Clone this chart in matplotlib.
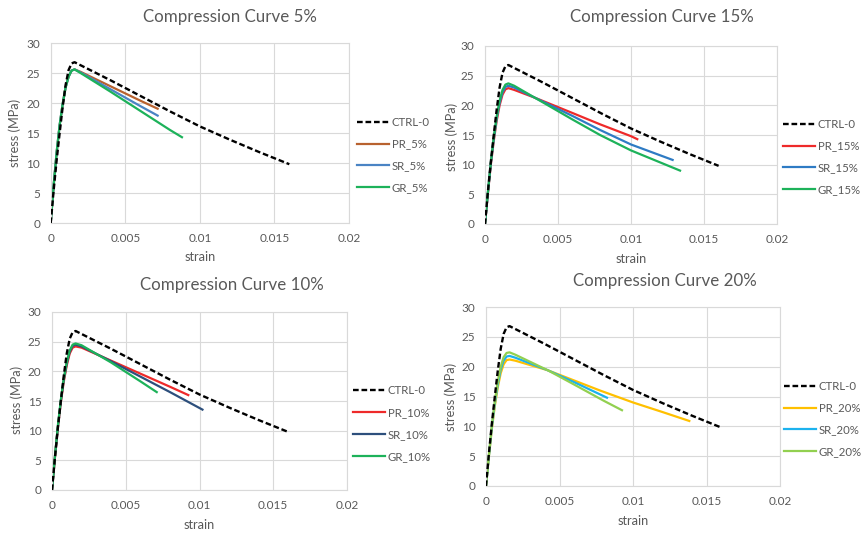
import matplotlib
matplotlib.use("Agg")
import matplotlib.pyplot as plt

plt.rcParams['font.family'] = ['Lato', 'DejaVu Sans']

# ---------------- data ----------------
rise_strain = [0, 0.0002, 0.0004, 0.0006, 0.0008, 0.001, 0.0012, 0.0014, 0.0016]

ctrl_strain = rise_strain + [0.002, 0.004, 0.006, 0.008, 0.010, 0.012, 0.014, 0.016]
ctrl_stress = [0, 5.5, 10.5, 15.0, 19.3, 23.0, 25.5, 26.6, 26.8,
               26.3, 23.8, 21.2, 18.6, 16.1, 13.9, 11.8, 9.8]

# 5%
pr5_strain = rise_strain + [0.002, 0.004, 0.006, 0.00717]
pr5_stress = [0, 6.3, 11.8, 16.3, 19.8, 22.6, 24.4, 25.4, 25.6, 25.2, 22.8, 20.4, 19.05]
sr5_strain = rise_strain + [0.002, 0.004, 0.006, 0.00717]
sr5_stress = [0, 6.3, 11.8, 16.3, 19.8, 22.6, 24.4, 25.4, 25.6, 25.1, 22.3, 19.5, 17.9]
gr5_strain = rise_strain + [0.002, 0.004, 0.006, 0.008, 0.0088]
gr5_stress = [0, 6.3, 11.8, 16.3, 19.8, 22.6, 24.4, 25.4, 25.6, 25.0, 21.9, 18.7, 15.5, 14.3]

# 15%
pr15_strain = rise_strain + [0.002, 0.0034, 0.006, 0.00788, 0.010, 0.01043]
pr15_stress = [0, 5.2, 10.0, 14.0, 17.4, 20.0, 21.8, 22.7, 22.9, 22.6, 21.3, 18.7, 16.8, 14.8, 14.3]
sr15_strain = rise_strain + [0.002, 0.0034, 0.006, 0.00788, 0.010, 0.01285]
sr15_stress = [0, 5.3, 10.2, 14.3, 17.8, 20.4, 22.2, 23.1, 23.3, 23.0, 21.3, 18.2, 15.85, 13.4, 10.8]
gr15_strain = rise_strain + [0.002, 0.0034, 0.006, 0.00788, 0.010, 0.01336]
gr15_stress = [0, 5.4, 10.4, 14.6, 18.1, 20.8, 22.6, 23.5, 23.7, 23.3, 21.3, 17.6, 15.0, 12.4, 9.0]

# 10%
pr10_strain = rise_strain + [0.002, 0.004, 0.006, 0.008, 0.00924]
pr10_stress = [0, 5.5, 10.6, 14.8, 18.3, 21.0, 23.0, 24.0, 24.2, 24.0, 21.8, 19.6, 17.4, 16.0]
sr10_strain = rise_strain + [0.002, 0.004, 0.006, 0.008, 0.0102]
sr10_stress = [0, 5.6, 10.7, 15.0, 18.6, 21.3, 23.3, 24.3, 24.5, 24.2, 21.7, 19.1, 16.5, 13.55]
gr10_strain = rise_strain + [0.002, 0.004, 0.006, 0.0071]
gr10_stress = [0, 5.7, 10.9, 15.2, 18.8, 21.6, 23.5, 24.5, 24.7, 24.4, 21.5, 18.3, 16.5]

# 20%
pr20_strain = rise_strain + [0.002, 0.0042, 0.00776, 0.010, 0.012, 0.01383]
pr20_stress = [0, 5.0, 9.6, 13.4, 16.5, 18.9, 20.4, 21.1, 21.2, 21.0, 19.4, 16.0, 14.0, 12.4, 10.9]
sr20_strain = rise_strain + [0.002, 0.0042, 0.006, 0.00823]
sr20_stress = [0, 5.1, 9.9, 13.8, 17.0, 19.5, 21.0, 21.7, 21.8, 21.5, 19.4, 17.4, 14.8]
gr20_strain = rise_strain + [0.002, 0.0042, 0.006, 0.008, 0.00925]
gr20_stress = [0, 5.3, 10.2, 14.2, 17.5, 20.0, 21.6, 22.3, 22.4, 22.0, 19.4, 17.0, 14.3, 12.7]

x_ticks = [0, 0.005, 0.01, 0.015, 0.02]
x_tick_labels = ['0', '0.005', '0.01', '0.015', '0.02']
y_ticks = [0, 5, 10, 15, 20, 25, 30]

panels = [
    dict(title='Compression Curve 5%', rect=[50.7, 43, 349, 223], title_xy=(230, 17),
         xlabel_xy=(200, 257), ylabel_xy=(15, 133), leg_xy=(357, 155),
         series=[('PR_5%', pr5_strain, pr5_stress, '#B8622F'),
                 ('SR_5%', sr5_strain, sr5_stress, '#4A84C4'),
                 ('GR_5%', gr5_strain, gr5_stress, '#1DB25A')]),
    dict(title='Compression Curve 15%', rect=[485, 46, 777, 224], title_xy=(662, 17),
         xlabel_xy=(631, 259), ylabel_xy=(452, 137), leg_xy=(783, 157),
         series=[('PR_15%', pr15_strain, pr15_stress, '#EE2A2A'),
                 ('SR_15%', sr15_strain, sr15_stress, '#2E7BC4'),
                 ('GR_15%', gr15_strain, gr15_stress, '#1DB25A')]),
    dict(title='Compression Curve 10%', rect=[52, 312, 347, 490], title_xy=(232, 285),
         xlabel_xy=(199, 525), ylabel_xy=(17, 400), leg_xy=(353, 423.5),
         series=[('PR_10%', pr10_strain, pr10_stress, '#EE2A2A'),
                 ('SR_10%', sr10_strain, sr10_stress, '#2D4F7C'),
                 ('GR_10%', gr10_strain, gr10_stress, '#1DB25A')]),
    dict(title='Compression Curve 20%', rect=[486, 307, 780, 486], title_xy=(665, 281),
         xlabel_xy=(633, 521), ylabel_xy=(451, 397), leg_xy=(784, 419),
         series=[('PR_20%', pr20_strain, pr20_stress, '#FFC000'),
                 ('SR_20%', sr20_strain, sr20_stress, '#1CB2EE'),
                 ('GR_20%', gr20_strain, gr20_stress, '#92D050')]),
]

W, H = 864, 534
fig = plt.figure(figsize=(W / 100, H / 100), dpi=100)
fig.patch.set_facecolor('white')

txt = '#595959'
grid = '#D9D9D9'

for p in panels:
    x0, y0, x1, y1 = p['rect']
    ax = fig.add_axes([x0 / W, 1 - y1 / H, (x1 - x0) / W, (y1 - y0) / H])
    ax.plot(ctrl_strain, ctrl_stress, color='black', lw=1.7,
            linestyle=(0, (2.4, 1.2)), label='CTRL-0', zorder=3)
    for name, xs, ys, c in p['series']:
        ax.plot(xs, ys, color=c, lw=1.6, label=name, zorder=2)
    ax.set_xlim(0, 0.02)
    ax.set_ylim(0, 30)
    ax.set_xticks(x_ticks)
    ax.set_xticklabels(x_tick_labels)
    ax.set_yticks(y_ticks)
    ax.grid(True, color=grid, lw=0.8)
    ax.set_axisbelow(True)
    for s in ax.spines.values():
        s.set_color(grid)
        s.set_linewidth(0.8)
    ax.tick_params(length=0, colors=txt, labelsize=8.5, pad=7.5)
    fig.text(p['title_xy'][0] / W, 1 - p['title_xy'][1] / H, p['title'],
             ha='center', va='center', fontsize=12.2, color=txt)
    fig.text(p['xlabel_xy'][0] / W, 1 - p['xlabel_xy'][1] / H, 'strain',
             ha='center', va='center', fontsize=9.2, color=txt)
    fig.text(p['ylabel_xy'][0] / W, 1 - p['ylabel_xy'][1] / H, 'stress (MPa)',
             ha='center', va='center', fontsize=9.2, color=txt, rotation=90)
    leg = ax.legend(loc='center left',
                    bbox_to_anchor=(p['leg_xy'][0] / W, 1 - p['leg_xy'][1] / H),
                    bbox_transform=fig.transFigure, frameon=False, fontsize=8.2,
                    handlelength=2.8, handletextpad=0.25, labelspacing=0.95,
                    borderaxespad=0, borderpad=0)
    for t in leg.get_texts():
        t.set_color(txt)

fig.savefig('out.png', dpi=100, facecolor='white')
